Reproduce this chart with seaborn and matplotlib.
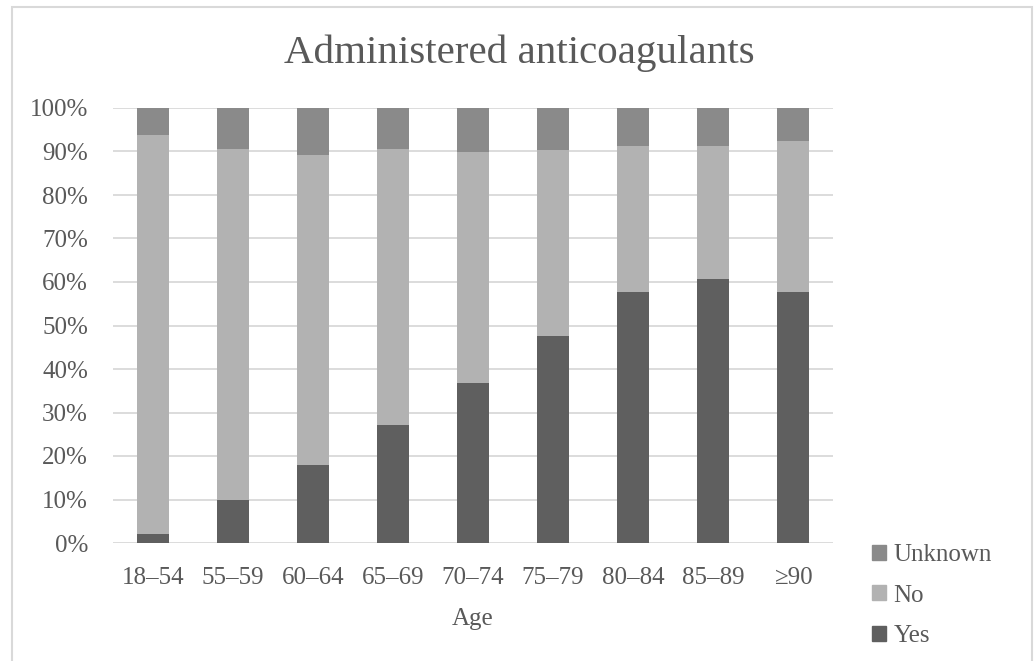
import seaborn as sns
import matplotlib.pyplot as plt
import matplotlib.ticker as mticker
import matplotlib.patches as mpatches
import pandas as pd

# data (percent of patients per age group)
ages = ["18–54", "55–59", "60–64", "65–69", "70–74", "75–79", "80–84", "85–89", "≥90"]
yes = [2.1, 10.0, 17.9, 27.2, 36.8, 47.5, 57.8, 60.7, 57.8]
no = [91.6, 80.6, 71.4, 63.4, 53.1, 42.8, 33.4, 30.5, 34.5]
unknown = [6.3, 9.4, 10.7, 9.4, 10.1, 9.7, 8.8, 8.8, 7.7]
yticks = [0, 10, 20, 30, 40, 50, 60, 70, 80, 90, 100]

colors = {"Yes": "#5f5f5f", "No": "#b2b2b2", "Unknown": "#8a8a8a"}
text_color = "#595959"

sns.set_style("white")
plt.rcParams['font.family'] = ['Liberation Serif', 'DejaVu Serif']

df = pd.DataFrame({"Age": ages, "Yes": yes, "No": no, "Unknown": unknown})
df["top_no"] = df["Yes"] + df["No"]
df["top_unk"] = df["top_no"] + df["Unknown"]

fig = plt.figure(figsize=(10.35, 6.61), dpi=100)
W, H = 1035, 661
ax = fig.add_axes([113 / W, 1 - 543 / H, (833 - 113) / W, (543 - 108) / H])

# stacked bars: draw cumulative totals back to front
sns.barplot(data=df, x="Age", y="top_unk", color=colors["Unknown"], width=0.4, linewidth=0, saturation=1, ax=ax)
sns.barplot(data=df, x="Age", y="top_no", color=colors["No"], width=0.4, linewidth=0, saturation=1, ax=ax)
sns.barplot(data=df, x="Age", y="Yes", color=colors["Yes"], width=0.4, linewidth=0, saturation=1, ax=ax)

ax.set_ylim(0, 100)
ax.set_xlim(-0.5, len(ages) - 0.5)
ax.set_yticks(yticks)
ax.yaxis.set_major_formatter(mticker.PercentFormatter(xmax=100, decimals=0))
ax.grid(True, axis='y', color='#d9d9d9', linewidth=1.3)
ax.set_axisbelow(True)
for spine in ax.spines.values():
    spine.set_visible(False)
ax.tick_params(axis='both', length=0, labelsize=18, labelcolor=text_color)
ax.tick_params(axis='x', pad=17)
ax.tick_params(axis='y', pad=18)
ax.set_ylabel("")
ax.set_xlabel("Age", fontsize=18, color=text_color, labelpad=14)

fig.text(0.502, 1 - 53 / H, "Administered anticoagulants", ha='center', va='center',
         fontsize=29.5, color=text_color)

handles = [mpatches.Patch(color=colors[k], label=k) for k in ["Unknown", "No", "Yes"]]
fig.legend(handles=handles, loc='upper left', bbox_to_anchor=(872 / W, 1 - 544 / H),
           frameon=False, fontsize=18, labelcolor=text_color, handlelength=0.55,
           handleheight=0.55, handletextpad=0.3, labelspacing=0.74, borderpad=0, borderaxespad=0)

# light chart border
fig.patches.append(mpatches.Rectangle((12 / W, -0.02), (1032 - 12) / W, 1.02 - 7 / H,
                                      transform=fig.transFigure, fill=False,
                                      edgecolor='#d9d9d9', linewidth=1.5))

fig.savefig("out.png", dpi=100)
